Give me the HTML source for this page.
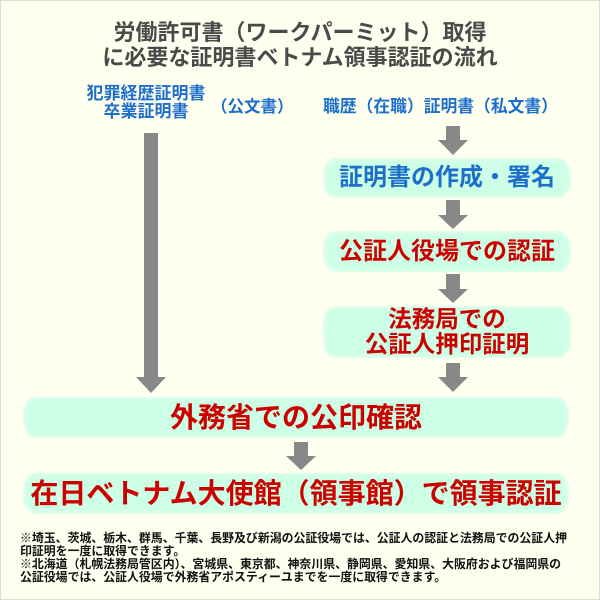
<!DOCTYPE html>
<html><head><meta charset="utf-8"><style>
body{margin:0;width:600px;height:600px;overflow:hidden;background:#fffff0;font-family:"Liberation Sans","Noto Sans CJK JP",sans-serif;}
#c{position:relative;width:598px;height:598px;border:1px solid #ddd;background:#fffff0;}
.t{position:absolute;white-space:nowrap;font-weight:bold;}
.box{position:absolute;background:#ccffe5;border-radius:12px/18px;box-shadow:0 0 4px 2px #e6fff0 inset;display:flex;align-items:center;justify-content:center;font-weight:bold;color:#cc0000;text-align:center;line-height:1.05;white-space:nowrap;}
</style></head><body><div id="c">
<div class="t" style="left:0;width:598px;text-align:center;top:19px;font-size:22px;color:#4a4a4a;line-height:25px;">労働許可書（ワークパーミット）取得<br>に必要な証明書ベトナム領事認証の流れ</div>
<div class="t" style="left:78px;width:134px;text-align:center;top:84px;font-size:17px;color:#1e6fcc;line-height:18px;">犯罪経歴証明書<br>卒業証明書</div>
<div class="t" style="left:210px;top:92px;font-size:16.5px;color:#1e6fcc;">（公文書）</div>
<div class="t" style="left:322px;top:92px;font-size:16.8px;color:#1e6fcc;">職歴（在職）証明書（私文書）</div>
<svg style="position:absolute;left:0;top:0" width="598" height="598">
<g fill="#888">
<rect x="143" y="132" width="14" height="244"/><polygon points="135,376 165,376 150,392"/>
<rect x="445" y="125" width="14" height="14"/><polygon points="437,139 467,139 452,154"/>
<rect x="445" y="199" width="14" height="15"/><polygon points="437,214 467,214 452,228"/>
<rect x="445" y="273" width="14" height="15"/><polygon points="437,288 467,288 452,302"/>
<rect x="445" y="362" width="14" height="15"/><polygon points="437,376 467,376 452,391"/>
<rect x="293" y="441" width="14" height="15"/><polygon points="285,455 315,455 300,469"/>
</g></svg>
<div class="box" style="left:322px;top:157px;width:248px;height:40px;color:#1e6fcc;font-size:24px;">証明書の作成・署名</div>
<div class="box" style="left:322px;top:230px;width:248px;height:41px;font-size:24px;">公証人役場での認証</div>
<div class="box" style="left:322px;top:305px;width:248px;height:52px;font-size:23.5px;">法務局での<br>公証人押印証明</div>
<div class="box" style="left:22px;top:396px;width:546px;height:41px;font-size:28px;">外務省での公印確認</div>
<div class="box" style="left:22px;top:472px;width:546px;height:41px;font-size:28px;">在日ベトナム大使館（領事館）で領事認証</div>
<div class="t" style="left:19px;top:531px;font-size:11.9px;color:#111;line-height:13px;">※埼玉、茨城、栃木、群馬、千葉、長野及び新潟の公証役場では、公証人の認証と法務局での公証人押<br>印証明を一度に取得できます。<br>※北海道（札幌法務局管区内）、宮城県、東京都、神奈川県、静岡県、愛知県、大阪府および福岡県の<br>公証役場では、公証人役場で外務省アポスティーユまでを一度に取得できます。</div>
</div></body></html>
